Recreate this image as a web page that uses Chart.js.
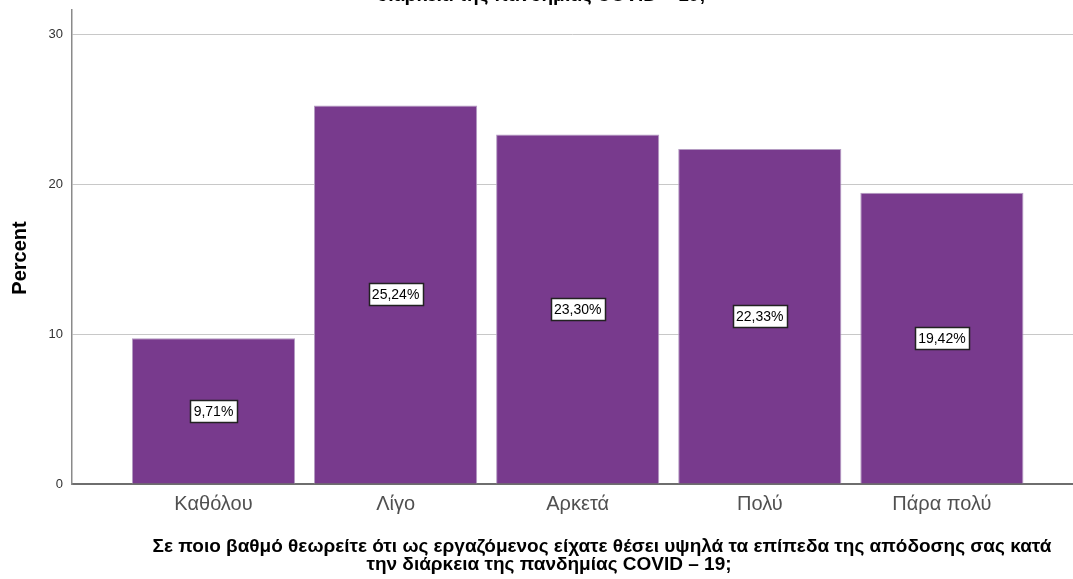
<!DOCTYPE html>
<html>
<head>
<meta charset="utf-8">
<script src="https://cdn.jsdelivr.net/npm/chart.js@4.4.1/dist/chart.umd.min.js"></script>
<style>
  html, body { margin: 0; padding: 0; background: #fff; }
  #wrap { width: 1073px; height: 579px; }
</style>
</head>
<body>
<div id="wrap"><canvas id="myChart" width="1073" height="579"></canvas></div>
<script>
// Datos
const categorias = ['Καθόλου', 'Λίγο', 'Αρκετά', 'Πολύ', 'Πάρα πολύ'];
const porcentajes = [9.71, 25.24, 23.30, 22.33, 19.42];
const etiquetasValor = ['9,71%', '25,24%', '23,30%', '22,33%', '19,42%'];
const ticksY = [0, 10, 20, 30];

const tituloY = 'Percent';
const tituloX = [
    'Σε ποιο βαθμό θεωρείτε ότι ως εργαζόμενος είχατε θέσει υψηλά τα επίπεδα της απόδοσης σας κατά',
    'την διάρκεια της πανδημίας COVID – 19;'
];
const tituloArriba = 'διάρκεια της πανδημίας COVID – 19;';

const FUENTE = '"Liberation Sans", Arial, sans-serif';

// Textos extra: títulos y cajitas con el porcentaje
const textosPlugin = {
    id: 'textos',
    afterDatasetsDraw(chart) {
        const ctx = chart.ctx;
        const meta = chart.getDatasetMeta(0);
        ctx.save();
        ctx.font = '14px ' + FUENTE;
        ctx.textAlign = 'center';
        ctx.textBaseline = 'middle';
        meta.data.forEach((bar, i) => {
            const texto = etiquetasValor[i];
            const cx = bar.x;
            const cy = (bar.y + bar.base) / 2;
            const w = Math.round(ctx.measureText(texto).width + 7);
            const h = 22;
            const x0 = Math.round(cx - w / 2) + 0.5;
            const y0 = Math.round(cy - h / 2) + 0.5;
            ctx.fillStyle = '#ffffff';
            ctx.fillRect(x0, y0, w, h);
            ctx.strokeStyle = '#222222';
            ctx.lineWidth = 1.5;
            ctx.strokeRect(x0, y0, w, h);
            ctx.fillStyle = '#000000';
            ctx.fillText(texto, cx, cy + 1);
        });
        ctx.restore();
    },
    afterDraw(chart) {
        const ctx = chart.ctx;
        ctx.save();
        ctx.fillStyle = '#000000';
        ctx.font = 'bold 19px ' + FUENTE;
        ctx.textAlign = 'center';
        // título de arriba, cortado por el borde
        ctx.textBaseline = 'alphabetic';
        ctx.fillText(tituloArriba, 541, 1);
        // título del eje X en dos líneas
        ctx.textBaseline = 'middle';
        ctx.fillText(tituloX[0], 602, 547);
        ctx.fillText(tituloX[1], 549, 565);
        // título del eje Y
        ctx.font = 'bold 20px ' + FUENTE;
        ctx.translate(20, 258);
        ctx.rotate(-Math.PI / 2);
        ctx.fillText(tituloY, 0, 0);
        ctx.restore();
    }
};

const ctx = document.getElementById('myChart').getContext('2d');

new Chart(ctx, {
    type: 'bar',
    data: {
        datasets: [{
            data: porcentajes.map((v, i) => ({ x: i, y: v })),
            backgroundColor: '#783a8d',
            borderColor: '#b49bc2',
            borderWidth: 1,
            categoryPercentage: 1,
            barPercentage: 0.896
        }]
    },
    options: {
        responsive: false,
        animation: false,
        layout: { padding: { top: 10, left: 0, right: 0, bottom: 0 } },
        plugins: {
            legend: { display: false },
            tooltip: { enabled: false }
        },
        scales: {
            x: {
                type: 'linear',
                offset: false,
                min: -0.777,
                max: 4.72,
                grid: { display: false, drawTicks: false },
                border: { display: true, color: '#6e6e6e', width: 2 },
                afterBuildTicks: scale => {
                    scale.ticks = categorias.map((c, i) => ({ value: i }));
                },
                afterFit: scale => { scale.height = 95; },
                ticks: {
                    autoSkip: false,
                    maxRotation: 0,
                    padding: 8,
                    color: '#505050',
                    font: { family: FUENTE, size: 20 },
                    callback: value => categorias[value] || ''
                }
            },
            y: {
                min: 0,
                max: 31.6,
                grid: { color: '#c8c8c8', lineWidth: 1, drawTicks: false },
                border: { display: true, color: '#8a8a8a', width: 1.5 },
                afterBuildTicks: scale => {
                    scale.ticks = ticksY.map(v => ({ value: v }));
                },
                afterFit: scale => {
                    scale.width = 72;
                    scale.paddingTop = 0;
                    scale.paddingBottom = 0;
                },
                ticks: {
                    padding: 9,
                    color: '#333333',
                    font: { family: FUENTE, size: 13 }
                }
            }
        }
    },
    plugins: [textosPlugin]
});
</script>
</body>
</html>
